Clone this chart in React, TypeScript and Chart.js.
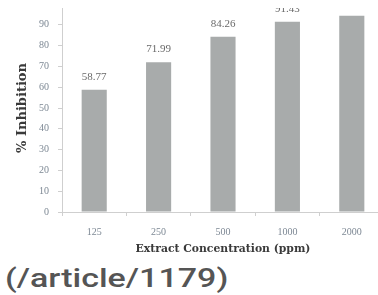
import React, { useEffect, useRef } from "react";
import { Chart, registerables } from "chart.js";

Chart.register(...registerables);

const categories = ["125", "250", "500", "1000", "2000"];
const inhibition = [58.77, 71.99, 84.26, 91.43, 94.3];
const valueLabels = ["58.77", "71.99", "84.26", "91.43", "94.30"];
const yTickStep = 10;
const yMax = 100;

const valueLabelPlugin = {
  id: "valueLabels",
  afterDatasetsDraw(chart: any) {
    const { ctx } = chart;
    const meta = chart.getDatasetMeta(0);
    ctx.save();
    ctx.font = "11px 'Liberation Serif'";
    ctx.fillStyle = "#6a6a6a";
    ctx.textAlign = "center";
    ctx.textBaseline = "middle";
    meta.data.forEach((bar: any, i: number) => {
      ctx.fillText(valueLabels[i], bar.x, bar.y - 13);
    });
    ctx.restore();
  },
};

export default function App() {
  const ref = useRef<HTMLCanvasElement>(null);
  useEffect(() => {
    if (!ref.current) return;
    const chart = new Chart(ref.current, {
      type: "bar",
      data: {
        labels: categories,
        datasets: [
          {
            data: inhibition,
            backgroundColor: "#a8abab",
            categoryPercentage: 1,
            barPercentage: 0.39,
          },
        ],
      },
      options: {
        responsive: false,
        animation: false,
        layout: { padding: { top: 20, left: 0, right: 0, bottom: 0 } },
        plugins: { legend: { display: false }, tooltip: { enabled: false } },
        scales: {
          x: {
            afterFit: (s: any) => {
              s.height = 50;
            },
            grid: {
              drawOnChartArea: false,
              tickLength: 4,
              color: "#cfcfcf",
            },
            border: { color: "#cfcfcf" },
            ticks: {
              padding: 10,
              color: "#7d8894",
              font: { family: "'Liberation Serif'", size: 10 },
            },
            title: {
              display: true,
              text: "Extract Concentration (ppm)",
              color: "#3a3a3a",
              font: { family: "'DejaVu Serif'", size: 10.8, weight: "bold" },
              padding: { top: 0, bottom: 6 },
            },
          },
          y: {
            min: 0,
            max: yMax,
            afterFit: (s: any) => {
              s.width = 62;
            },
            grid: {
              drawOnChartArea: false,
              tickLength: 4,
              color: "#cfcfcf",
            },
            border: { color: "#cfcfcf" },
            ticks: {
              stepSize: yTickStep,
              padding: 9,
              color: "#7d8894",
              font: { family: "'Liberation Serif'", size: 10 },
            },
            title: {
              display: true,
              text: "% Inhibition",
              color: "#3a3a3a",
              font: { family: "'DejaVu Serif'", size: 13, weight: "bold" },
              padding: { top: 15, bottom: 0 },
            },
          },
        },
      },
      plugins: [valueLabelPlugin],
    });
    return () => chart.destroy();
  }, []);

  return (
    <div
      style={{
        position: "fixed",
        left: 0,
        top: 0,
        width: 378,
        height: 295,
        overflow: "hidden",
        background: "#ffffff",
      }}
    >
      <div
        style={{
          position: "absolute",
          left: 0,
          top: 0,
          width: 378,
          height: 255,
          overflow: "hidden",
        }}
      >
        <canvas
          ref={ref}
          width={384}
          height={278}
          style={{ position: "absolute", left: 0, top: -16, width: 384, height: 278 }}
        />
        <div
          style={{
            position: "absolute",
            left: 0,
            top: 0,
            width: 378,
            height: 8,
            background: "#ffffff",
          }}
        />
      </div>
      <div
        style={{
          position: "absolute",
          left: 5,
          top: 266,
          fontFamily: "Roboto, sans-serif",
          fontSize: 25,
          fontWeight: 500,
          lineHeight: "25px",
          color: "#555555",
          whiteSpace: "nowrap",
          transform: "scaleX(1.36)",
          transformOrigin: "left top",
        }}
      >
        (/article/1179)
      </div>
    </div>
  );
}
